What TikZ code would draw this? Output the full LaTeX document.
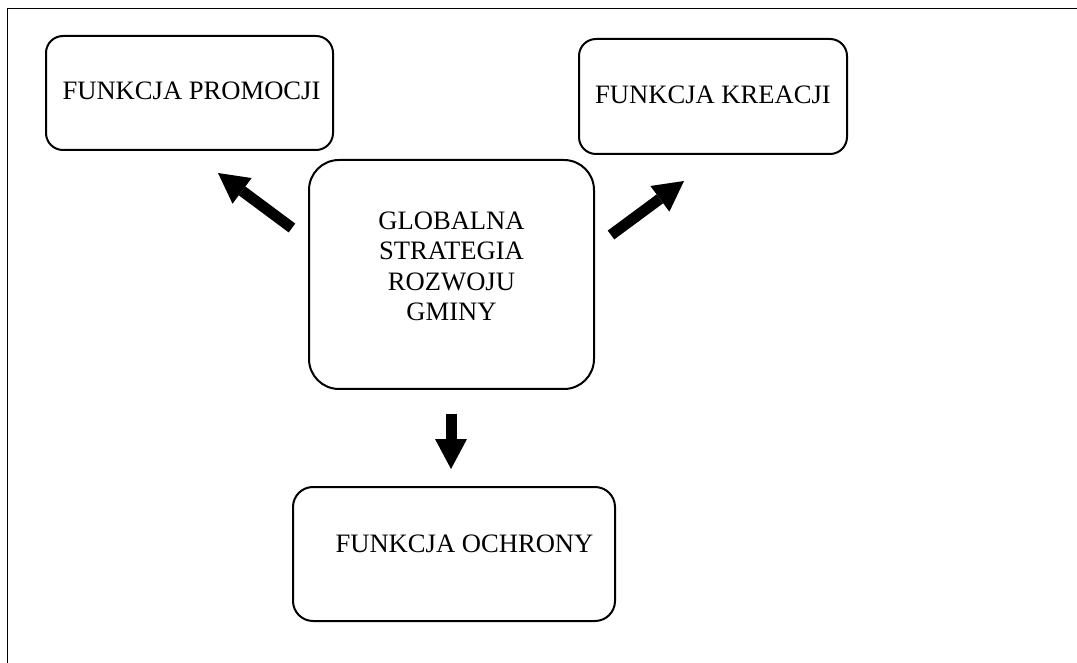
\documentclass[tikz,border=0pt]{standalone}
\usepackage{fontspec}
\setmainfont{Liberation Serif}
\usetikzlibrary{arrows.meta}
\tikzset{
  fbox/.style={rectangle, draw, line width=1pt, rounded corners=8.5pt, inner sep=0pt},
  ftext/.style={font=\fontsize{13.3}{15.2}\selectfont, align=center, inner sep=0pt},
  bigarrow/.style={line width=5.5pt, -{Triangle[length=15pt,width=16pt,line width=0pt]}}
}
\begin{document}
\begin{tikzpicture}[x=0.5pt,y=-0.5pt]
\useasboundingbox (0,0) rectangle (1077,663);
% frame
\draw[line width=0.5pt] (7.5,663) -- (7.5,9) -- (1077,9);
% boxes
\node[fbox, minimum width=143.5pt, minimum height=57pt] (prom) at (189.5,93) {};
\node[fbox, minimum width=134pt, minimum height=57.5pt] (krea) at (713,96.5) {};
\node[fbox, rounded corners=15pt, minimum width=142.5pt, minimum height=114.5pt] (glob) at (451.5,274.5) {};
\node[fbox, rounded corners=10pt, minimum width=161pt, minimum height=67pt] (ochr) at (454,554) {};
% texts
\node[ftext] (promtxt) at (191.5,90.5) {FUNKCJA PROMOCJI};
\node[ftext] (kreatxt) at (713,94.5) {FUNKCJA KREACJI};
\node[ftext] (globtxt) at (451.5,266.5) {GLOBALNA\\STRATEGIA\\ROZWOJU\\GMINY};
\node[ftext] (ochrtxt) at (464.5,544) {FUNKCJA OCHRONY};
% arrows
\draw[bigarrow] ([shift={(-16,-46.5)}]glob.west) -- ([shift={(28.5,22)}]prom.south);
\draw[bigarrow] ([shift={(16,-39.5)}]glob.east) -- ([shift={(106,26)}]krea.south west);
\draw[bigarrow] ([shift={(-0.5,24)}]glob.south) -- ([shift={(-3,-17)}]ochr.north);
\end{tikzpicture}
\end{document}
